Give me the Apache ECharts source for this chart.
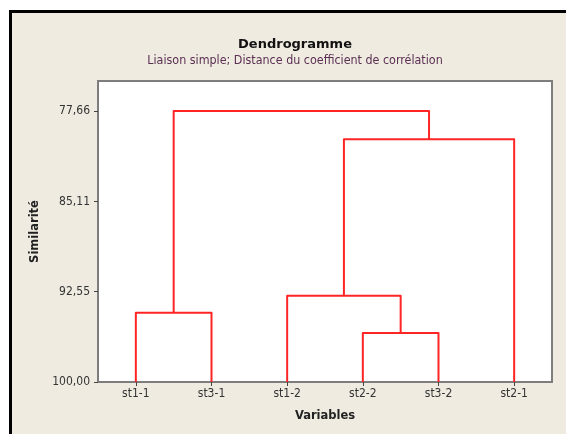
<!DOCTYPE html>
<html>
<head>
<meta charset="utf-8">
<script src="https://cdn.jsdelivr.net/npm/echarts@6/dist/echarts.min.js"></script>
<style>
  html, body { margin: 0; padding: 0; background: #ffffff; }
  #frame { position: absolute; left: 9px; top: 10px; width: 620px; height: 500px;
           border-left: 3px solid #000; border-top: 3px solid #000; background: #EFEBE1; }
  #chart { position: absolute; left: 0; top: 0; width: 566px; height: 434px; }
</style>
</head>
<body>
<div id="frame"></div>
<div id="chart"></div>
<script>
// Leaves (order on the x axis)
const categories = ['st1-1', 'st3-1', 'st1-2', 'st2-2', 'st3-2', 'st2-1'];
// Y tick labels (similarity)
const yTicks = [77.66, 85.11, 92.55, 100.00];
// Merge steps: ids 0..5 are leaves, id 6+k is the cluster made at step k
const mergeLeft  = [3, 0, 2, 8, 7];
const mergeRight = [4, 1, 6, 5, 9];
const mergeSim   = [95.95, 94.29, 92.88, 79.98, 77.66];

const n = categories.length;
const nodeX = [];
const nodeY = [];
for (let i = 0; i < n; i++) { nodeX.push(i); nodeY.push(100); }
const series = [];
for (let k = 0; k < mergeSim.length; k++) {
  const a = mergeLeft[k], b = mergeRight[k], h = mergeSim[k];
  series.push({
    type: 'line',
    data: [[nodeX[a], nodeY[a]], [nodeX[a], h], [nodeX[b], h], [nodeX[b], nodeY[b]]],
    symbol: 'none',
    lineStyle: { color: '#FF2525', width: 2, join: 'round' },
    silent: true,
    animation: false,
    z: 3
  });
  nodeX.push((nodeX[a] + nodeX[b]) / 2);
  nodeY.push(h);
}

const chart = echarts.init(document.getElementById('chart'), null, { renderer: 'canvas' });
chart.setOption({
  backgroundColor: 'transparent',
  animation: false,
  title: {
    text: 'Dendrogramme',
    subtext: 'Liaison simple; Distance du coefficient de corrélation',
    left: 290, top: 33, textAlign: 'center',
    itemGap: 4,
    textStyle: { fontFamily: 'DejaVu Sans', fontWeight: 'bold', fontSize: 13, color: '#111' },
    subtextStyle: { fontFamily: 'DejaVu Sans Condensed', fontSize: 12.4, color: '#5a2f52' }
  },
  grid: {
    left: 98, right: 14, top: 81, bottom: 52,
    show: true, backgroundColor: '#ffffff', borderColor: '#7d7d7d', borderWidth: 2
  },
  xAxis: {
    type: 'value', min: -0.5, max: 5.5,
    name: 'Variables', nameLocation: 'middle', nameGap: 28,
    nameTextStyle: { fontFamily: 'DejaVu Sans', fontWeight: 'bold', fontSize: 11.5, color: '#222' },
    axisLine: { show: true, onZero: false, lineStyle: { color: '#7d7d7d', width: 2 } },
    axisTick: { show: true, length: 4, customValues: categories.map((c, i) => i), lineStyle: { color: '#444', width: 1 } },
    axisLabel: {
      customValues: categories.map((c, i) => i),
      formatter: v => categories[Math.round(v)],
      fontFamily: 'DejaVu Sans Condensed', fontSize: 12, color: '#333', margin: 6
    },
    splitLine: { show: false }
  },
  yAxis: {
    type: 'value', inverse: true, min: 75.18, max: 100,
    name: 'Similarité', nameLocation: 'middle', nameGap: 57, nameRotate: 90,
    nameTextStyle: { fontFamily: 'DejaVu Sans', fontWeight: 'bold', fontSize: 11.5, color: '#222' },
    axisLine: { show: true, onZero: false, lineStyle: { color: '#7d7d7d', width: 2 } },
    axisTick: { show: true, length: 4, customValues: yTicks, lineStyle: { color: '#444', width: 1 } },
    axisLabel: {
      customValues: yTicks,
      formatter: v => v.toFixed(2).replace('.', ','),
      fontFamily: 'DejaVu Sans Condensed', fontSize: 12, color: '#333', margin: 8
    },
    splitLine: { show: false }
  },
  series: series
});
</script>
</body>
</html>
